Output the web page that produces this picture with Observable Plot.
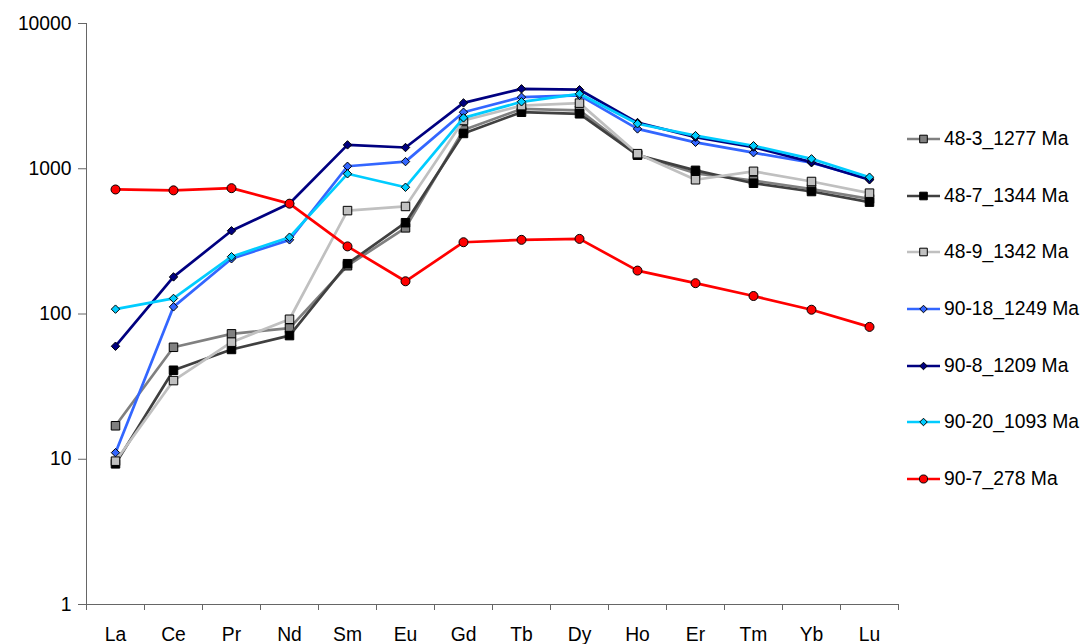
<!DOCTYPE html>
<html><head><meta charset="utf-8">
<script src="https://cdn.jsdelivr.net/npm/d3@7"></script>
<script src="https://cdn.jsdelivr.net/npm/@observablehq/plot@0.6"></script>
<style>
html,body{margin:0;padding:0;background:#fff;}
#wrap{position:relative;width:1082px;height:644px;font-family:"Liberation Sans",Arial,sans-serif;overflow:hidden;}
#legend{position:absolute;left:907px;top:111px;}
.row{height:56.6px;display:flex;align-items:center;font-size:19.3px;color:#000;white-space:nowrap;}
.row svg{margin-right:4px;display:block;}
</style></head><body><div id="wrap"><div id="legend"></div></div>
<script>
const elements = ["La","Ce","Pr","Nd","Sm","Eu","Gd","Tb","Dy","Ho","Er","Tm","Yb","Lu"];
const seriesNames = ["48-3_1277 Ma","48-7_1344 Ma","48-9_1342 Ma","90-18_1249 Ma","90-8_1209 Ma","90-20_1093 Ma","90-7_278 Ma"];
const v48_3  = [17, 59, 73, 80, 215, 392, 1850, 2580, 2520, 1250, 930, 830, 725, 620];
const v48_7  = [9.3, 41, 57, 71, 222, 425, 1750, 2450, 2390, 1240, 975, 795, 697, 589];
const v48_9  = [9.7, 34.8, 64, 92, 515, 550, 2150, 2720, 2830, 1270, 840, 960, 817, 679];
const v90_18 = [11.1, 112, 240, 324, 1040, 1120, 2450, 3110, 3200, 1880, 1520, 1290, 1100, 851];
const v90_8  = [60, 180, 374, 577, 1460, 1400, 2840, 3550, 3500, 2080, 1650, 1410, 1110, 839];
const v90_20 = [108, 128, 248, 338, 923, 746, 2240, 2890, 3280, 2040, 1690, 1440, 1170, 875];
const v90_7  = [720, 710, 735, 575, 292, 168, 312, 324, 329, 199, 163, 133, 107, 81.5];
const yTicks = [1, 10, 100, 1000, 10000];

const seriesValues = [v48_3, v48_7, v48_9, v90_18, v90_8, v90_20, v90_7];
const lineColors   = ["#808080","#404040","#C0C0C0","#3366FF","#000080","#00CCFF","#FF0000"];
const markerFills  = ["#808080","#000000","#C0C0C0","#3366FF","#000080","#00CCFF","#FF0000"];
const markerSymbols = ["square","square","square","diamond2","diamond2","diamond2","circle"];
const markerR = [4.8, 4.8, 4.8, 3.8, 3.8, 3.8, 4.5];

const rows = seriesNames.flatMap((name, s) => seriesValues[s].map((v, i) => ({name, s, i, v})));

const marks = [];
seriesNames.forEach((name, s) => {
  const d = rows.filter(r => r.s === s);
  marks.push(Plot.line(d, {x: "i", y: "v", stroke: lineColors[s], strokeWidth: 2.7}));
  marks.push(Plot.dot(d, {x: "i", y: "v", symbol: markerSymbols[s], r: markerR[s], fill: markerFills[s], stroke: "#000", strokeWidth: 1}));
});

const boundaries = d3.range(elements.length + 1).map(i => i - 0.5);

const chart = Plot.plot({
  width: 1082, height: 644,
  marginLeft: 86, marginRight: 184, marginTop: 23, marginBottom: 40,
  style: {fontFamily: '"Liberation Sans", Arial, sans-serif', fontSize: "19.3px", color: "#000", background: "#fff"},
  x: {type: "linear", domain: [-0.5, elements.length - 0.5]},
  y: {type: "log", domain: [1, 10000]},
  marks: [
    Plot.ruleX([-0.5], {stroke: "#666"}),
    Plot.ruleY([1], {stroke: "#666"}),
    Plot.axisY(yTicks, {tickFormat: d => String(d), tickSize: 8, tickPadding: 7, stroke: "#666", label: null}),
    Plot.axisX(boundaries, {tickFormat: () => "", tickSize: 6, stroke: "#666", label: null}),
    Plot.axisX(d3.range(elements.length), {tickFormat: i => elements[i], tickSize: 0, tickPadding: 23, label: null}),
    ...marks
  ]
});
document.getElementById("wrap").prepend(chart);

const symMap = {square: d3.symbolSquare, diamond2: d3.symbolDiamond2, circle: d3.symbolCircle};
const legend = d3.select("#legend");
seriesNames.forEach((name, s) => {
  const row = legend.append("div").attr("class", "row");
  const svg = row.append("svg").attr("width", 33).attr("height", 16);
  svg.append("line").attr("x1", 0).attr("x2", 33).attr("y1", 8).attr("y2", 8)
    .attr("stroke", lineColors[s]).attr("stroke-width", 2.7);
  svg.append("path")
    .attr("d", d3.symbol().type(symMap[markerSymbols[s]]).size(Math.PI * markerR[s] * markerR[s] * 0.8)())
    .attr("transform", "translate(16.5,8)")
    .attr("fill", markerFills[s]).attr("stroke", "#000").attr("stroke-width", 1);
  row.append("span").text(name);
});
</script>
</body></html>
